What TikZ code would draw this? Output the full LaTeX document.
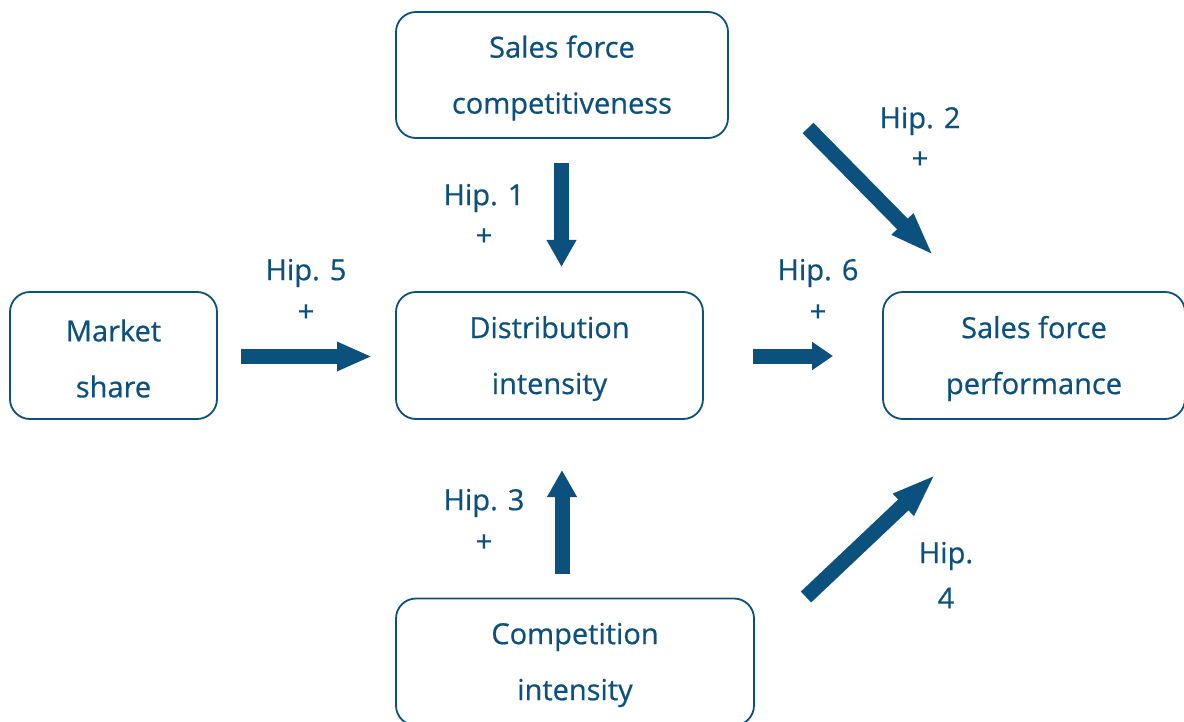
\documentclass[tikz,border=0pt]{standalone}
\usepackage{fontspec}
\setmainfont{Open Sans}[FakeBold=0.6]
\usetikzlibrary{arrows.meta}
\definecolor{navy}{RGB}{12,80,125}
\newcommand{\dn}[1]{\raisebox{-3pt}[\height][\depth]{#1}}
\tikzset{
  box/.style={draw=navy, line width=1.8pt, rounded corners=20pt, text=navy,
    align=center, inner sep=0pt, font=\fontsize{29}{56}\selectfont},
  lbl/.style={text=navy, inner sep=0pt, font=\fontsize{29}{35}\selectfont, align=center},
  fat/.style 2 args={draw=navy, line width=15pt,
    -{Triangle[length=#1 0 0, width=#2 0 0]}}
}
\begin{document}
\begin{tikzpicture}[x=1pt,y=-1pt]
\useasboundingbox (0,0) rectangle (1184,722);
\clip (0,0) rectangle (1184,722);
% boxes
\node[box, minimum width=332pt, minimum height=126pt] (sfc) at (562,75) {\dn{Sales force}\\\dn{competitiveness}};
\node[box, minimum width=207pt, minimum height=127pt] (ms) at (113.5,355.5) {\dn{Market}\\\dn{share}};
\node[box, minimum width=307pt, minimum height=127pt] (di) at (549.5,355.5) {\dn{Distribution}\\\dn{intensity}};
\node[box, minimum width=302pt, minimum height=127pt] (sfp) at (1034,355.5) {\dn{Sales force}\\\dn{performance}};
\node[box, minimum width=358pt, minimum height=127pt] (ci) at (575,662) {\dn{Competition}\\\dn{intensity}};
% arrow end points
\coordinate (a1s) at (561.5,163);
\coordinate (a1e) at (561.5,267);
\coordinate (a5s) at (241,356.5);
\coordinate (a5e) at (372,356.5);
\coordinate (a6s) at (753,356);
\coordinate (a6e) at (833,356);
\coordinate (a3s) at (562,574);
\coordinate (a3e) at (562,470);
\coordinate (a2s) at (808,128);
\coordinate (a2e) at (934,256);
\coordinate (a4s) at (806,597);
\coordinate (a4e) at (936,474);
% arrows
\draw[fat={27pt}{28pt}] (a1s) -- (a1e);
\draw[fat={35pt}{27pt}] (a5s) -- (a5e);
\draw[fat={21pt}{27pt}] (a6s) -- (a6e);
\draw[fat={27pt}{28pt}] (a3s) -- (a3e);
\draw[fat={45pt}{27pt}] (a2s) -- (a2e);
\draw[fat={45pt}{27pt}] (a4s) -- (a4e);
% labels
\node[lbl] (h1) at (484,198) {Hip. 1};
\node[lbl] (p1) at (484,237) {+};
\node[lbl] (h2) at (920,121) {Hip. 2};
\node[lbl] (p2) at (920,160) {+};
\node[lbl] (h5) at (306,273) {Hip. 5};
\node[lbl] (p5) at (306,313) {+};
\node[lbl] (h6) at (818,273) {Hip. 6};
\node[lbl] (p6) at (818,313) {+};
\node[lbl] (h3) at (484,503) {Hip. 3};
\node[lbl] (p3) at (484,543) {+};
\node[lbl] (h4) at (946,556) {Hip.};
\node[lbl] (n4) at (946,598) {4};
\end{tikzpicture}
\end{document}
